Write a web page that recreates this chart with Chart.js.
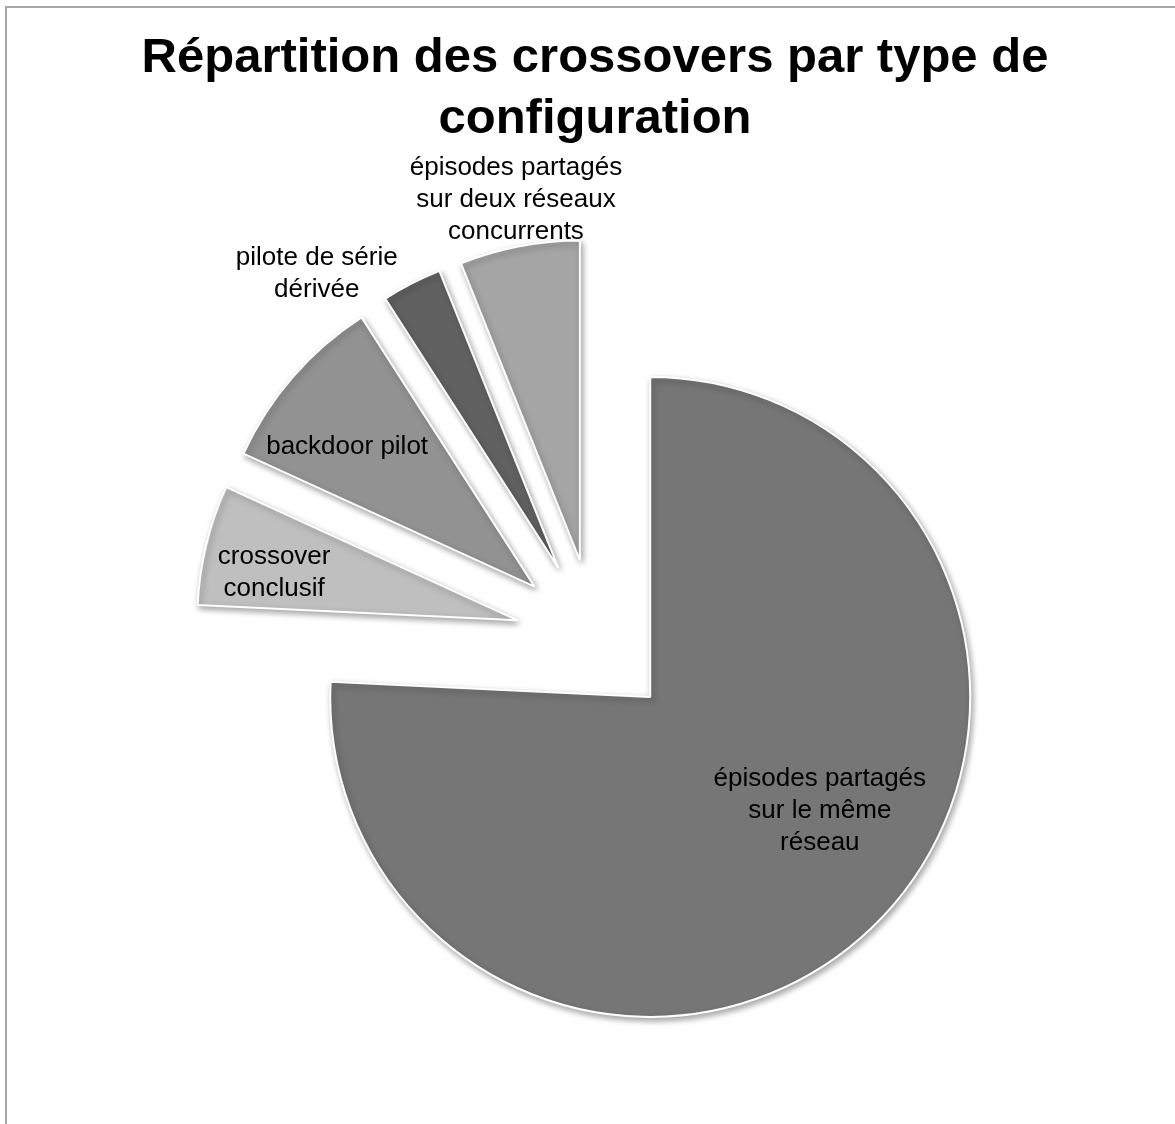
<!DOCTYPE html>
<html>
<head>
<meta charset="utf-8">
<script src="https://cdn.jsdelivr.net/npm/chart.js@4.4.1/dist/chart.umd.min.js"></script>
<style>
  html, body { margin: 0; padding: 0; overflow: hidden; background: #fff; width: 1175px; height: 1124px; }
  #frame { position: absolute; left: 5px; top: 6px; width: 1400px; height: 1400px;
           border-left: 2px solid #a6a6a6; border-top: 2px solid #a6a6a6; }
  #c { position: absolute; left: 0; top: 0; }
</style>
</head>
<body>
<div id="frame"></div>
<canvas id="c" width="1200" height="1300"></canvas>
<script>
// ---- data ----
const categories = [
  'épisodes partagés sur le même réseau',
  'crossover conclusif',
  'backdoor pilot',
  'pilote de série dérivée',
  'épisodes partagés sur deux réseaux concurrents'
];
const values = [25, 2, 3, 1, 2];
const labelLines = [
  ['épisodes partagés', 'sur le même', 'réseau'],
  ['crossover', 'conclusif'],
  ['backdoor pilot'],
  ['pilote de série', 'dérivée'],
  ['épisodes partagés', 'sur deux réseaux', 'concurrents']
];
const titleLines = ['Répartition des crossovers par type de', 'configuration'];

// ---- styles ----
const sliceColors = ['#767676', '#bfbfbf', '#929292', '#616161', '#a5a5a5'];
const explodeDist = 80;
// label placement: fraction of radius, fraction of slice angle span
const labelRadiusFrac = [0.638, 0.774, 0.73, 1.19, 1.146];
const labelAngleFrac = [0.454, 0.38, 0.37, -0.61, 0.54];
const FONT = '"Liberation Sans", Arial, Helvetica, sans-serif';

const explodePlugin = {
  id: 'explode',
  afterDatasetsUpdate(chart) {
    const meta = chart.getDatasetMeta(0);
    meta.data.forEach(arc => {
      const mid = (arc.startAngle + arc.endAngle) / 2;
      arc.x += Math.cos(mid) * explodeDist;
      arc.y += Math.sin(mid) * explodeDist;
    });
  }
};

const shadowPlugin = {
  id: 'sliceShadow',
  beforeDatasetsDraw(chart) {
    const ctx = chart.ctx;
    ctx.save();
    ctx.shadowColor = 'rgba(0,0,0,0.35)';
    ctx.shadowBlur = 6;
    ctx.shadowOffsetX = 2;
    ctx.shadowOffsetY = 3;
  },
  afterDatasetsDraw(chart) {
    chart.ctx.restore();
  }
};

const labelPlugin = {
  id: 'sliceLabels',
  afterDatasetsDraw(chart) {
    const ctx = chart.ctx;
    const meta = chart.getDatasetMeta(0);
    ctx.save();
    ctx.font = '26px ' + FONT;
    ctx.fillStyle = '#000';
    ctx.textAlign = 'center';
    ctx.textBaseline = 'middle';
    const lh = 32;
    meta.data.forEach((arc, i) => {
      const a = arc.startAngle + labelAngleFrac[i] * (arc.endAngle - arc.startAngle);
      const r = labelRadiusFrac[i] * arc.outerRadius;
      const x = arc.x + Math.cos(a) * r;
      const y = arc.y + Math.sin(a) * r;
      const lines = labelLines[i];
      lines.forEach((t, j) => {
        ctx.fillText(t, x, y + (j - (lines.length - 1) / 2) * lh);
      });
    });
    ctx.restore();
  }
};

new Chart(document.getElementById('c'), {
  type: 'pie',
  data: {
    labels: categories,
    datasets: [{
      data: values,
      backgroundColor: sliceColors,
      borderColor: '#ffffff',
      borderWidth: 2,
      radius: 320
    }]
  },
  options: {
    responsive: false,
    animation: false,
    layout: { padding: { left: 0, right: 10, top: 0, bottom: 171.9 } },
    plugins: {
      legend: { display: false },
      tooltip: { enabled: false },
      title: {
        display: true,
        text: titleLines,
        color: '#000',
        font: { family: FONT, size: 49, weight: 'bold', lineHeight: 1.25 },
        padding: { top: 27.4, bottom: 0 }
      }
    }
  },
  plugins: [explodePlugin, shadowPlugin, labelPlugin]
});
</script>
</body>
</html>
